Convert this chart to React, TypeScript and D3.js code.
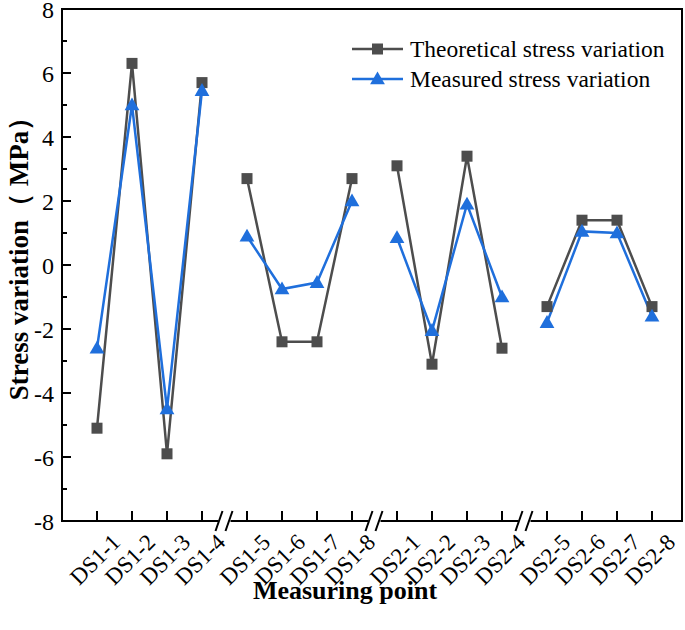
import React from "react";
import * as d3 from "d3";

const categories = ["DS1-1","DS1-2","DS1-3","DS1-4","DS1-5","DS1-6","DS1-7","DS1-8","DS2-1","DS2-2","DS2-3","DS2-4","DS2-5","DS2-6","DS2-7","DS2-8"];
const theoretical = [-5.1, 6.3, -5.9, 5.7, 2.7, -2.4, -2.4, 2.7, 3.1, -3.1, 3.4, -2.6, -1.3, 1.4, 1.4, -1.3];
const measured = [-2.6, 5.0, -4.5, 5.45, 0.9, -0.75, -0.55, 2.0, 0.85, -2.05, 1.9, -1.0, -1.8, 1.05, 1.0, -1.6];
const yTicks = [-8, -6, -4, -2, 0, 2, 4, 6, 8];
const yMinorTicks = [-7, -5, -3, -1, 1, 3, 5, 7];
const seriesNames = ["Theoretical stress variation", "Measured stress variation"];

const W = 685, H = 630;
const left = 62, right = 682, top = 9, bottom = 521;
const GRAY = "#4d4d4d";
const BLUE = "#1f6fdc";
const FONT = "'Liberation Serif', 'Times New Roman', serif";
const GROUP = 4;
const GAP = 10 / 35;

const pos = (i: number) => i + Math.floor(i / GROUP) * GAP;

export default function App() {
  const x = d3.scaleLinear().domain([0, pos(15)]).range([97, 652]);
  const y = d3.scaleLinear().domain([-8, 8]).range([bottom, top]);

  const groups = d3.range(categories.length / GROUP);
  const segPath = (vals: number[], g: number) => {
    const idx = d3.range(g * GROUP, g * GROUP + GROUP);
    return d3.line<number>().x((i) => x(pos(i))).y((i) => y(vals[i]))(idx) || "";
  };
  const breaks = groups.slice(1).map((g) => (x(pos(g * GROUP - 1)) + x(pos(g * GROUP))) / 2);
  const tri = d3.symbol().type(d3.symbolTriangle).size(95)() || "";

  return (
    <svg width={W} height={H} style={{ display: "block", position: "absolute", left: 0, top: 0, background: "#fff" }}>
      <rect width={W} height={H} fill="#fff" />
      <rect x={left} y={top} width={right - left} height={bottom - top} fill="none" stroke="#000" strokeWidth={2} />
      {yTicks.map((t) => (
        <g key={"y" + t}>
          <line x1={left} x2={left + 9} y1={y(t)} y2={y(t)} stroke="#000" strokeWidth={2} />
          <text x={left - 8} y={y(t)} dy="0.36em" textAnchor="end" fontFamily={FONT} fontSize={24}>{t}</text>
        </g>
      ))}
      {yMinorTicks.map((t) => (
        <line key={"ym" + t} x1={left} x2={left + 5} y1={y(t)} y2={y(t)} stroke="#000" strokeWidth={2} />
      ))}
      {categories.map((c, i) => (
        <g key={c}>
          <line x1={x(pos(i))} x2={x(pos(i))} y1={bottom} y2={bottom - 10} stroke="#000" strokeWidth={2} />
          <text transform={`translate(${x(pos(i)) + 13},${bottom + 11}) rotate(-45)`} textAnchor="end" dy="0.72em" fontFamily={FONT} fontSize={23}>{c}</text>
        </g>
      ))}
      {breaks.map((bx, k) => (
        <g key={"b" + k}>
          <rect x={bx - 6} y={bottom - 3} width={12} height={6} fill="#fff" />
          <line x1={bx - 9} y1={bottom + 10} x2={bx - 2} y2={bottom - 10} stroke="#000" strokeWidth={2} />
          <line x1={bx + 1} y1={bottom + 10} x2={bx + 8} y2={bottom - 10} stroke="#000" strokeWidth={2} />
        </g>
      ))}
      {groups.map((g) => (
        <g key={"g" + g}>
          <path d={segPath(theoretical, g)} fill="none" stroke={GRAY} strokeWidth={2.5} />
          <path d={segPath(measured, g)} fill="none" stroke={BLUE} strokeWidth={2.5} />
        </g>
      ))}
      {theoretical.map((v, i) => (
        <rect key={"s" + i} x={x(pos(i)) - 5.5} y={y(v) - 5.5} width={11} height={11} fill={GRAY} />
      ))}
      {measured.map((v, i) => (
        <path key={"t" + i} d={tri} transform={`translate(${x(pos(i))},${y(v) + 1})`} fill={BLUE} />
      ))}
      <g>
        <line x1={352} x2={403} y1={49} y2={49} stroke={GRAY} strokeWidth={2.5} />
        <rect x={377.5 - 5.5} y={49 - 5.5} width={11} height={11} fill={GRAY} />
        <text x={410} y={49} dy="0.35em" fontFamily={FONT} fontSize={23.5}>{seriesNames[0]}</text>
        <line x1={352} x2={403} y1={79} y2={79} stroke={BLUE} strokeWidth={2.5} />
        <path d={tri} transform={`translate(377.5,80)`} fill={BLUE} />
        <text x={410} y={79} dy="0.35em" fontFamily={FONT} fontSize={23.5}>{seriesNames[1]}</text>
      </g>
      <text x={345} y={599} textAnchor="middle" fontFamily={FONT} fontWeight="bold" fontSize={26}>Measuring point</text>
      <text transform={`translate(19,${(top + bottom) / 2 - 13}) rotate(-90)`} textAnchor="middle" dy="0.35em" fontFamily={FONT} fontWeight="bold" fontSize={27}>Stress variation（ MPa）</text>
    </svg>
  );
}
